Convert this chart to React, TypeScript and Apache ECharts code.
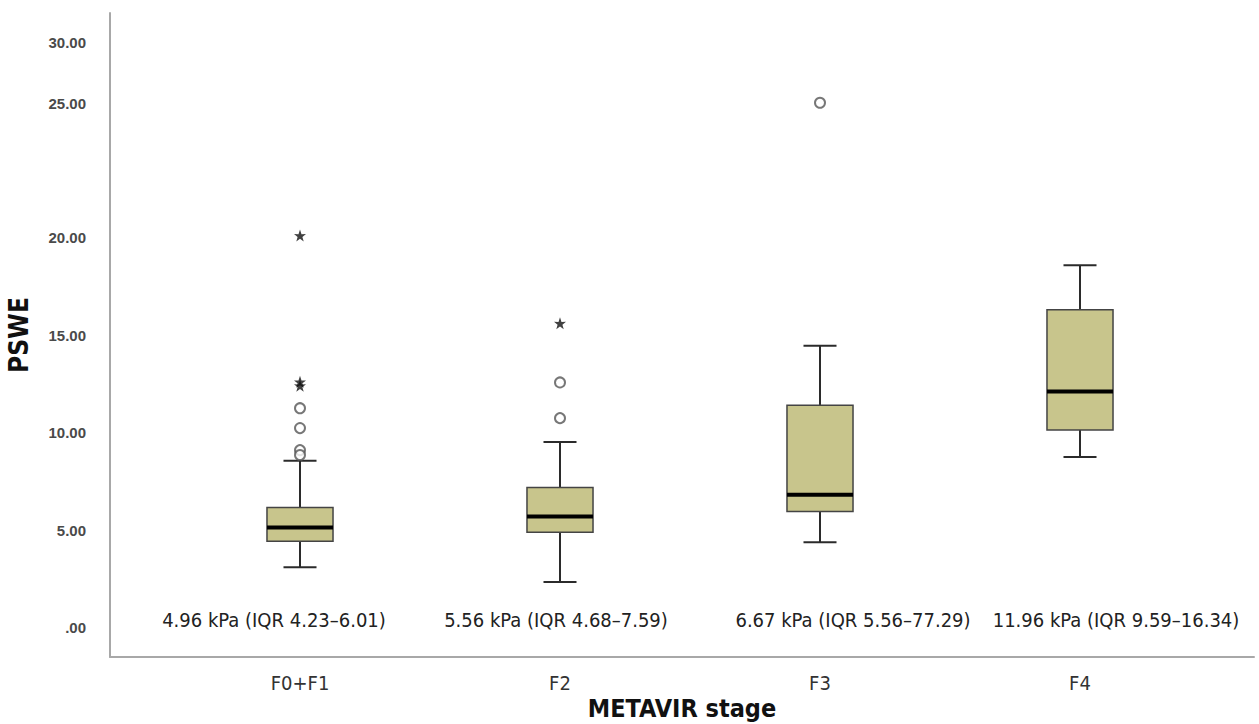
import React, { useEffect, useRef } from "react";
import * as echarts from "echarts";

const categories = ["F0+F1", "F2", "F3", "F4"];
// [low whisker, Q1, median, Q3, high whisker]
const boxValues = [
  [3.1, 4.43, 5.14, 6.16, 8.55],
  [2.34, 4.89, 5.7, 7.18, 9.52],
  [4.38, 5.95, 6.82, 11.4, 14.45],
  [8.75, 10.13, 12.11, 16.29, 18.58],
];
const circleOutliers = [
  [0, 11.25],
  [0, 10.23],
  [0, 9.1],
  [0, 8.85],
  [1, 12.57],
  [1, 10.74],
  [2, 26.9],
];
const starOutliers = [
  [0, 20.1],
  [0, 12.6],
  [0, 12.4],
  [1, 15.6],
];
const captions = [
  "4.96 kPa (IQR 4.23–6.01)",
  "5.56 kPa (IQR 4.68–7.59)",
  "6.67 kPa (IQR 5.56–77.29)",
  "11.96 kPa (IQR 9.59–16.34)",
];
const yTicks = [0, 5, 10, 15, 20, 25, 30];

const COND = "'Liberation Sans Narrow', 'DejaVu Sans Condensed', 'Roboto', sans-serif";
const STAR =
  "path://M50,0 L61.8,35.3 L97.6,34.5 L69.1,56.7 L79.4,90.9 L50,70.4 L20.6,90.9 L30.9,56.7 L2.4,34.5 L38.2,35.3 Z";

export default function App() {
  const ref = useRef<HTMLDivElement>(null);
  useEffect(() => {
    document.body.style.margin = "0";
    if (!ref.current) return;
    const chart = echarts.init(ref.current, undefined, { renderer: "svg" });
    const yMin = -1.5;
    const yMax = 31.5;
    const captionX = [274, 556, 853, 1116];
    chart.setOption({
      animation: false,
      backgroundColor: "#ffffff",
      grid: [
        { left: 110, right: 5, top: 13, bottom: 67, containLabel: false, outerBoundsMode: "none" },
        { left: 170, right: 49, top: 13, bottom: 67, containLabel: false, outerBoundsMode: "none" },
      ],
      xAxis: [
        {
          gridIndex: 0,
          type: "value",
          min: 0,
          max: 1,
          axisLine: { show: true, onZero: false, lineStyle: { color: "#a8a8a8", width: 2 } },
          axisTick: { show: false },
          axisLabel: { show: false },
          splitLine: { show: false },
          name: "METAVIR stage",
          nameLocation: "middle",
          nameGap: 39,
          nameTextStyle: { fontFamily: COND, fontWeight: "bold", fontSize: 25, color: "#111" },
        },
        {
          gridIndex: 1,
          type: "category",
          data: categories,
          axisLine: { show: false },
          axisTick: { show: false },
          axisLabel: { margin: 16, fontFamily: COND, fontSize: 20, color: "#333" },
        },
      ],
      yAxis: [
        {
          gridIndex: 0,
          type: "value",
          min: yMin,
          max: yMax,
          interval: 0.5,
          axisLine: { show: true, lineStyle: { color: "#a8a8a8", width: 2 } },
          axisTick: { show: false },
          splitLine: { show: false },
          axisLabel: {
            margin: 24,
            fontFamily: "'Liberation Sans', Arial, sans-serif",
            fontWeight: "bold",
            fontSize: 15,
            color: "#4a4a4a",
            formatter: (v: number) => {
              const r = Math.round(v * 10) / 10;
              if (!yTicks.includes(r)) return "";
              const s = r === 0 ? ".00" : r.toFixed(2);
              return r === 25 ? "{up|" + s + "}" : s;
            },
            rich: {
              up: {
                fontFamily: "'Liberation Sans', Arial, sans-serif",
                fontWeight: "bold",
                fontSize: 15,
                color: "#4a4a4a",
                padding: [0, 0, 72, 0],
              },
            },
          },
          name: "PSWE",
          nameLocation: "middle",
          nameGap: 78,
          nameTextStyle: { fontFamily: COND, fontWeight: "bold", fontSize: 26, color: "#111" },
        },
        {
          gridIndex: 1,
          type: "value",
          min: yMin,
          max: yMax,
          show: false,
        },
      ],
      series: [
        {
          type: "custom",
          xAxisIndex: 1,
          yAxisIndex: 1,
          data: boxValues.map((b, i) => [i, ...b]),
          renderItem: (params: any, api: any) => {
            const x = api.value(0);
            const band = api.size([1, 0])[0];
            const half = band * 0.127;
            const cap = half / 2;
            const pLow = api.coord([x, api.value(1)]);
            const pQ1 = api.coord([x, api.value(2)]);
            const pMed = api.coord([x, api.value(3)]);
            const pQ3 = api.coord([x, api.value(4)]);
            const pHigh = api.coord([x, api.value(5)]);
            const cx = pLow[0];
            const lineStyle = { stroke: "#2b2b2b", lineWidth: 2 };
            return {
              type: "group",
              children: [
                { type: "line", shape: { x1: cx, y1: pHigh[1], x2: cx, y2: pQ3[1] }, style: lineStyle },
                { type: "line", shape: { x1: cx, y1: pQ1[1], x2: cx, y2: pLow[1] }, style: lineStyle },
                { type: "line", shape: { x1: cx - cap, y1: pHigh[1], x2: cx + cap, y2: pHigh[1] }, style: lineStyle },
                { type: "line", shape: { x1: cx - cap, y1: pLow[1], x2: cx + cap, y2: pLow[1] }, style: lineStyle },
                {
                  type: "rect",
                  shape: { x: cx - half, y: pQ3[1], width: half * 2, height: pQ1[1] - pQ3[1] },
                  style: { fill: "#c8c58c", stroke: "#444", lineWidth: 1.5 },
                },
                {
                  type: "line",
                  shape: { x1: cx - half, y1: pMed[1], x2: cx + half, y2: pMed[1] },
                  style: { stroke: "#000", lineWidth: 4 },
                },
              ],
            };
          },
        },
        {
          type: "scatter",
          xAxisIndex: 1,
          yAxisIndex: 1,
          data: circleOutliers,
          symbol: "circle",
          symbolSize: 10,
          itemStyle: { color: "#ffffff", borderColor: "#555", borderWidth: 2 },
          z: 5,
        },
        {
          type: "scatter",
          xAxisIndex: 1,
          yAxisIndex: 1,
          data: starOutliers,
          symbol: STAR,
          symbolSize: 12,
          itemStyle: { color: "#111" },
          z: 5,
        },
      ],
      graphic: captions.map((t, i) => ({
        type: "text",
        x: captionX[i],
        y: 620,
        style: {
          text: t,
          fontFamily: COND,
          fontSize: 20,
          fill: "#222",
          align: "center",
          verticalAlign: "middle",
        },
      })),
    });
    return () => chart.dispose();
  }, []);
  return <div ref={ref} style={{ width: 1259, height: 724 }} />;
}
